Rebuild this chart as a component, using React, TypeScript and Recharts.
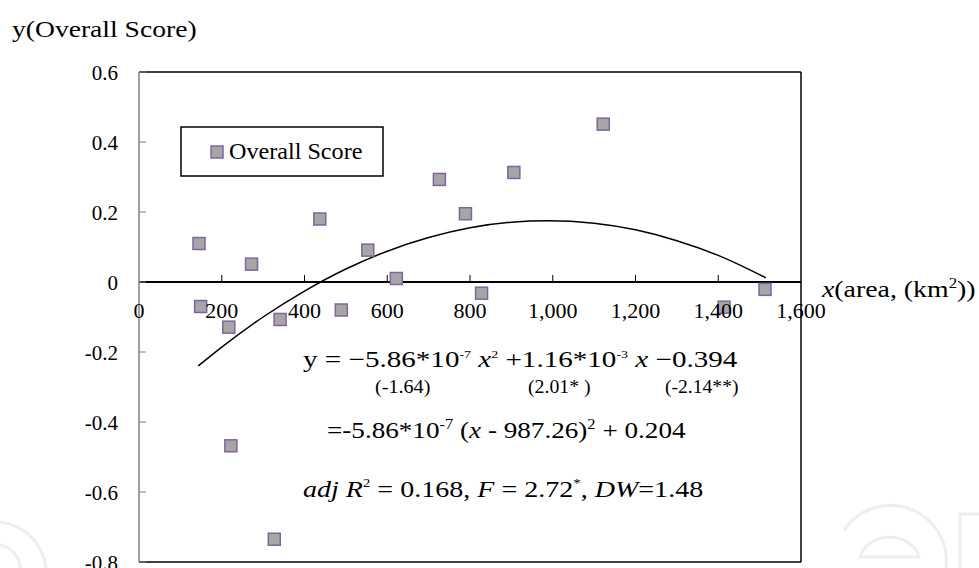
import React from 'react';
import {
  ComposedChart,
  Scatter,
  Line,
  XAxis,
  YAxis,
  ReferenceLine,
} from 'recharts';

// observed points: area (km^2) vs overall score
const areaValues = [145, 149, 217, 222, 272, 327, 341, 437, 489, 553, 622, 726, 789, 828, 906, 1122, 1414, 1513];
const scoreValues = [0.11, -0.07, -0.129, -0.468, 0.051, -0.735, -0.107, 0.18, -0.08, 0.091, 0.01, 0.293, 0.195, -0.032, 0.313, 0.451, -0.072, -0.021];

// quadratic trend line
const fitArea = [143, 200, 300, 400, 500, 600, 700, 800, 900, 987, 1100, 1200, 1300, 1400, 1515];
const fitScore = [-0.24, -0.186, -0.1, -0.026, 0.037, 0.088, 0.127, 0.155, 0.171, 0.175, 0.168, 0.149, 0.118, 0.076, 0.012];

const xTicks = [0, 200, 400, 600, 800, 1000, 1200, 1400, 1600];
const yTicks = [0.6, 0.4, 0.2, 0, -0.2, -0.4, -0.6, -0.8];

const W = 979;
const H = 568;
const PLOT_LEFT = 139;
const PLOT_RIGHT = 801;
const PLOT_TOP = 72;
const PLOT_BOTTOM = 562;
const Y_MAX = 0.6;
const Y_MIN = -0.8;
const ZERO_Y = PLOT_TOP + ((PLOT_BOTTOM - PLOT_TOP) * Y_MAX) / (Y_MAX - Y_MIN);

const FONT = "'Liberation Serif', 'Times New Roman', Tinos, 'DejaVu Serif', serif";
const serif = { fontFamily: FONT };

const scatterData = areaValues.map((a, i) => ({ area: a, score: scoreValues[i] }));
const fitData = fitArea.map((a, i) => ({ area: a, score: fitScore[i] }));

const renderXTick = (props: any) => {
  const { x, payload } = props;
  const v = payload.value as number;
  return (
    <g>
      {v > 0 && v < 1600 && (
        <line x1={x} x2={x} y1={ZERO_Y - 7} y2={ZERO_Y} stroke="#000" strokeWidth={1} />
      )}
      <text x={x} y={ZERO_Y + 36} textAnchor="middle" style={serif} fontSize={22} fill="#000">
        {v.toLocaleString('en-US')}
      </text>
    </g>
  );
};

const renderYTick = (props: any) => {
  const { y, payload } = props;
  const v = payload.value as number;
  return (
    <g>
      <line x1={PLOT_LEFT} x2={PLOT_LEFT + 7} y1={y} y2={y} stroke="#808080" strokeWidth={1} />
      <text x={PLOT_LEFT - 21} y={y + 8} textAnchor="end" style={serif} fontSize={21} fill="#000">
        {String(v)}
      </text>
    </g>
  );
};

const SquareDot = (props: any) => {
  const { cx, cy } = props;
  return (
    <rect
      x={cx - 6}
      y={cy - 6}
      width={12}
      height={12}
      fill="#a6a6a6"
      stroke="#8064a2"
      strokeWidth={1.5}
    />
  );
};

// the source figure is stretched sideways, so widen the text the same way
function Wide({ x, y, sx, children }: { x: number; y: number; sx: number; children: React.ReactNode }) {
  return <g transform={`translate(${x},${y}) scale(${sx},1)`}>{children}</g>;
}

export default function App() {
  return (
    <div style={{ position: 'absolute', left: 0, top: 0, width: W, height: H, background: '#fff', ...serif }}>
      <ComposedChart
        width={W}
        height={H}
        margin={{ top: PLOT_TOP, right: W - PLOT_RIGHT, bottom: 0, left: PLOT_LEFT - 60 }}
      >
        <XAxis
          type="number"
          dataKey="area"
          domain={[0, 1600]}
          ticks={xTicks}
          height={H - PLOT_BOTTOM}
          axisLine={false}
          tickLine={false}
          tick={renderXTick}
          interval={0}
        />
        <YAxis
          type="number"
          dataKey="score"
          domain={[Y_MIN, Y_MAX]}
          ticks={yTicks}
          width={60}
          axisLine={{ stroke: '#808080', strokeWidth: 1.5 }}
          tickLine={false}
          tick={renderYTick}
          interval={0}
        />
        <ReferenceLine y={Y_MAX} stroke="#000" strokeWidth={1.5} />
        <ReferenceLine y={Y_MIN} stroke="#000" strokeWidth={1.5} />
        <ReferenceLine x={1600} stroke="#000" strokeWidth={1.5} />
        <ReferenceLine y={0} stroke="#000" strokeWidth={2} />
        <Line
          data={fitData}
          dataKey="score"
          type="monotone"
          stroke="#000"
          strokeWidth={1.5}
          dot={false}
          isAnimationActive={false}
        />
        <Scatter
          data={scatterData}
          dataKey="score"
          shape={SquareDot}
          isAnimationActive={false}
        />
      </ComposedChart>
      <svg
        width={W}
        height={H}
        style={{ position: 'absolute', left: 0, top: 0, pointerEvents: 'none', ...serif }}
      >
        {/* faint watermark shapes */}
        <g fill="none" stroke="#eeeeee" strokeWidth={3}>
          <path d="M 0 522 A 52 52 0 0 1 46 568" />
          <path d="M 0 545 A 24 24 0 0 1 20 568" />
          <path d="M 844 530 A 56 56 0 0 1 946 568" />
          <path d="M 860 557 A 30 24 0 0 1 919 557 Z" />
          <path d="M 960 568 L 960 514 L 979 514" />
        </g>

        <Wide x={12} y={37} sx={1.2}>
          <text x={0} y={0} fontSize={23}>y(Overall Score)</text>
        </Wide>

        {/* legend */}
        <rect x={181} y={127} width={202} height={49} fill="#fff" stroke="#000" strokeWidth={1.5} />
        <rect x={211} y={146} width={12} height={12} fill="#a6a6a6" stroke="#8064a2" strokeWidth={1.5} />
        <Wide x={229} y={159} sx={1.05}>
          <text x={0} y={0} fontSize={23}>Overall Score</text>
        </Wide>

        {/* x axis title */}
        <Wide x={822} y={297} sx={1.21}>
          <text x={0} y={0} fontSize={23}>
            <tspan fontStyle="italic">x</tspan>(area, (km<tspan fontSize={14} dy={-9}>2</tspan>
            <tspan dy={9}>))</tspan>
          </text>
        </Wide>

        {/* regression annotation */}
        <Wide x={303} y={367} sx={1.265}>
          <text x={0} y={0} fontSize={23}>
            y = −5.86*10<tspan fontSize={11} dy={-9}>-7</tspan>
            <tspan dy={9} fontStyle="italic"> x</tspan>
            <tspan fontSize={11} dy={-9}>2</tspan>
            <tspan dy={9}>  +1.16*10</tspan>
            <tspan fontSize={11} dy={-9}>-3</tspan>
            <tspan dy={9} fontStyle="italic"> x</tspan>
            <tspan> −0.394</tspan>
          </text>
        </Wide>
        <Wide x={375} y={393} sx={1.12}>
          <text x={0} y={0} fontSize={18}>(-1.64)</text>
        </Wide>
        <Wide x={528} y={393} sx={1.1}>
          <text x={0} y={0} fontSize={18}>(2.01* )</text>
        </Wide>
        <Wide x={665} y={393} sx={1.09}>
          <text x={0} y={0} fontSize={18}>(-2.14**)</text>
        </Wide>
        <Wide x={327} y={438} sx={1.18}>
          <text x={0} y={0} fontSize={23}>
            =-5.86*10<tspan fontSize={14} dy={-9}>-7</tspan>
            <tspan dy={9}> (</tspan>
            <tspan fontStyle="italic">x</tspan>
            <tspan> - 987.26)</tspan>
            <tspan fontSize={14} dy={-9}>2</tspan>
            <tspan dy={9}> + 0.204</tspan>
          </text>
        </Wide>
        <Wide x={303} y={497} sx={1.22}>
          <text x={0} y={0} fontSize={23}>
            <tspan fontStyle="italic">adj  R</tspan>
            <tspan fontSize={12} dy={-10}>2</tspan>
            <tspan dy={10}>  = 0.168, </tspan>
            <tspan fontStyle="italic">F</tspan>
            <tspan> = 2.72</tspan>
            <tspan fontSize={12} dy={-10}>*</tspan>
            <tspan dy={10}>, </tspan>
            <tspan fontStyle="italic">DW</tspan>
            <tspan>=1.48</tspan>
          </text>
        </Wide>
      </svg>
    </div>
  );
}
